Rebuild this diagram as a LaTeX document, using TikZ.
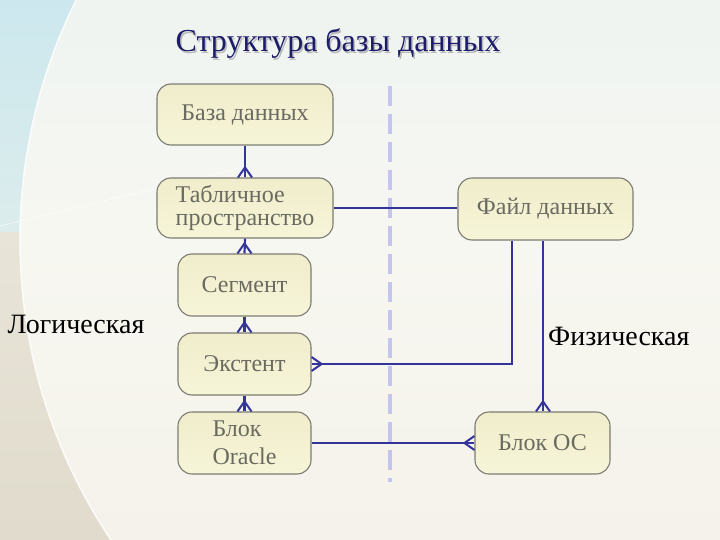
\documentclass[tikz,border=0pt]{standalone}
\usepackage{fontspec}
\setmainfont{Liberation Serif}
\usetikzlibrary{calc,shadings}
\definecolor{conncol}{HTML}{34349A}
\definecolor{boxline}{HTML}{7C7C72}
\definecolor{boxtxt}{HTML}{6A6A60}
\definecolor{boxtop}{HTML}{EFEDCB}
\definecolor{boxbot}{HTML}{F7F5D8}
\definecolor{titlecol}{HTML}{1C1C6A}
\definecolor{dashcol}{HTML}{C4C4EE}
\definecolor{bgcyan}{HTML}{CCE8EE}
\definecolor{bgcyan2}{HTML}{DCECEC}
\definecolor{bgbeige}{HTML}{E8E4D8}
\definecolor{bgbeige2}{HTML}{E0DBCC}
\definecolor{intop}{HTML}{E4F0F0}
\definecolor{inmid}{HTML}{F7F7F1}
\definecolor{inbot}{HTML}{F2EEE4}
\tikzset{
  dbbox/.style={draw=boxline, line width=1.1pt, rounded corners=14pt,
    top color=boxtop, bottom color=boxbot, text=boxtxt, inner sep=0pt,
    font=\fontsize{24}{23}\selectfont, align=left},
  conn/.style={draw=conncol, line width=2.2pt},
  crow/.style={draw=conncol, line width=2pt, line join=miter},
  side/.style={font=\fontsize{28}{30}\selectfont, text=black}
}
\begin{document}
\begin{tikzpicture}[x=1pt,y=-1pt]
\useasboundingbox (0,0) rectangle (720,540);
% background
\shade[top color=bgcyan, bottom color=bgcyan2] (0,0) rectangle (720,232);
\shade[top color=bgbeige, bottom color=bgbeige2] (0,232) rectangle (720,540);
\shade[top color=intop, bottom color=inbot, middle color=inmid]
  (560,240) ellipse [x radius=540, y radius=540];
\draw[white, line width=1.5pt, opacity=0.8] (560,240) ellipse [x radius=540, y radius=540];
\draw[white, line width=1pt, opacity=0.5] (0,226) -- (240,168);
% title
\node[text=gray!55, font=\fontsize{32}{34}\selectfont] at (339.5,45.5) {Структура базы данных};
\node[text=titlecol, font=\fontsize{32}{34}\selectfont] (title) at (338,44) {Структура базы данных};
% dashed divider
\coordinate (dtop) at (390,86);
\coordinate (dbot) at (390,482);
\draw[dashcol, line width=3.5pt, dash pattern=on 20pt off 8pt] (dtop) -- (dbot);
% boxes
\node[dbbox, minimum width=176pt, minimum height=61pt] (db)  at (245,114.5) {База данных};
\node[dbbox, minimum width=176pt, minimum height=60pt] (ts)  at (245,208) {Табличное\\пространство};
\node[dbbox, minimum width=133pt, minimum height=62pt] (seg) at (244.5,285) {Сегмент};
\node[dbbox, minimum width=133pt, minimum height=62pt] (ext) at (244.5,364) {Экстент};
\node[dbbox, minimum width=133pt, minimum height=62pt] (blk) at (244.5,443) {Блок\\[5pt]Oracle};
\node[dbbox, minimum width=175pt, minimum height=62pt] (file) at (545.5,209) {Файл данных};
\node[dbbox, minimum width=135pt, minimum height=62pt] (bos) at (542.5,443) {Блок ОС};
% side labels
\node[side, anchor=west] (logic) at (4,324) {Логическая};
\node[side, anchor=east] (phys) at (693,336) {Физическая};
% connectors
\draw[conn] (db.south) -- (ts.north);
\draw[conn] (ts.south) -- (seg.north);
\draw[conn] (seg.south) -- (ext.north);
\draw[conn] (ext.south) -- (blk.north);
\draw[conn] (ts.east) -- (ts.east -| file.west);
\coordinate (f1) at (512,240);
\coordinate (f2) at (543,240);
\draw[conn] (f1 |- file.south) -- (f1 |- ext.east) -- (ext.east);
\draw[conn] (f2 |- file.south) -- (f2 |- bos.north);
\draw[conn] (blk.east) -- (blk.east -| bos.west);
% crow's feet
\foreach \n in {ts,seg,ext,blk}{
  \draw[crow] ([xshift=-7pt]\n.north) -- ([yshift=10pt]\n.north) -- ([xshift=7pt]\n.north);
}
\draw[crow] ([xshift=-7pt]f2 |- bos.north) -- ([yshift=10pt]f2 |- bos.north) -- ([xshift=7pt]f2 |- bos.north);
\draw[crow] ([yshift=7pt]ext.east) -- ([xshift=10pt]ext.east) -- ([yshift=-7pt]ext.east);
\draw[crow] ([yshift=7pt]blk.east -| bos.west) -- ([xshift=-10pt]blk.east -| bos.west) -- ([yshift=-7pt]blk.east -| bos.west);
\end{tikzpicture}
\end{document}
